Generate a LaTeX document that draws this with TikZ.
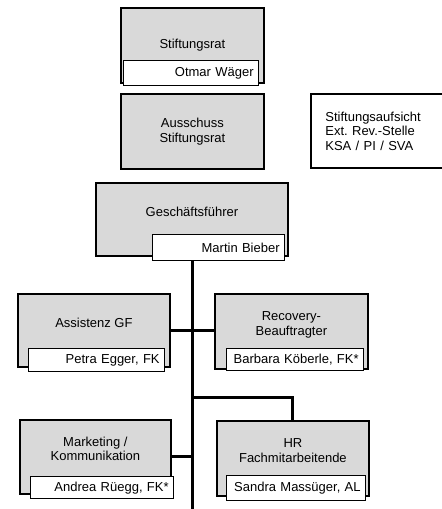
\documentclass[tikz,border=0pt]{standalone}
\usepackage{fontspec}
\setmainfont{Liberation Sans}
\frenchspacing
\usetikzlibrary{positioning,calc}

\begin{document}
\begin{tikzpicture}[x=1pt,y=-1pt]
  \tikzstyle{unit} = [
    % The shape:
    rectangle, anchor=north west, inner sep=0pt,
    % The border:
    line width=1.8pt,
    draw=black,
    % The filling:
    fill=black!15,
    % Font:
    font=\fontsize{13}{14.5}\selectfont, align=center
  ];
  \tikzstyle{named} = [
    % Text sits above the name box
    text depth=16pt
  ];
  \tikzstyle{note} = [
    rectangle, anchor=north west, inner sep=0pt,
    line width=1.8pt, draw=black, fill=white,
    font=\fontsize{13}{14.5}\selectfont, align=left
  ];
  \tikzstyle{person} = [
    rectangle, anchor=north west, inner ysep=0pt, inner xsep=5pt,
    line width=1.3pt, draw=black, fill=white,
    font=\fontsize{13}{15}\selectfont, align=right
  ];
  \tikzstyle{link} = [
    draw = black,
    line width=3pt
  ];

  \useasboundingbox (0,0) rectangle (442,509);

  \node [unit, minimum width=143pt, minimum height=75pt] at (120,7) (rat) {Stiftungsrat};
  \node [person, minimum height=25pt, text width=125pt] at (123,60) (ratName) {Otmar Wäger};

  \node [unit, minimum width=143pt, minimum height=75pt] at (120,93) (committee) {Ausschuss\\Stiftungsrat};

  % right edge runs off the page
  \node [note, minimum width=136pt, minimum height=74pt, text width=107pt] at (310,93) (supervision)
        {Stiftungsaufsicht\\Ext. Rev.-Stelle\\KSA / PI / SVA};

  \node [unit, named, minimum width=192pt, minimum height=73pt] at (95,182) (gf) {Geschäftsführer};
  \node [person, minimum height=26pt, text width=122pt] at (152,234) (gfName) {Martin Bieber};

  \node [unit, named, minimum width=152pt, minimum height=73pt] at (17,293) (assist) {Assistenz GF};
  \node [person, minimum height=23pt, text width=126pt] at (28,348) (assistName) {Petra Egger, FK};

  \node [unit, named, minimum width=153pt, minimum height=75pt] at (214,293) (recovery) {Recovery-\\Beauftragter};
  \node [person, minimum height=22pt, text width=127pt] at (226,348) (recoveryName) {Barbara Köberle, FK*};

  \node [unit, named, minimum width=151pt, minimum height=74pt] at (19,419) (marketing) {Marketing /\\Kommunikation};
  \node [person, minimum height=22pt, text width=133pt] at (30,476) (marketingName) {Andrea Rüegg, FK*};

  \node [unit, named, minimum width=152pt, minimum height=75pt] at (216,420) (hr) {HR\\Fachmitarbeitende};
  \node [person, minimum height=25pt, text width=129pt] at (226,475) (hrName) {Sandra Massüger, AL};

  \coordinate (spineTop) at (192,260);
  \coordinate (spineEnd) at (192,509);
  \coordinate (hrJoin) at (192,397);

  \path [link] (spineTop) to (spineEnd);
  \path [link] (assist.east) to (assist.east -| recovery.west);
  \path [link] (marketing.east) to (marketing.east -| spineTop);
  \path [link] (hrJoin) -| (hr.north);
\end{tikzpicture}
\end{document}
